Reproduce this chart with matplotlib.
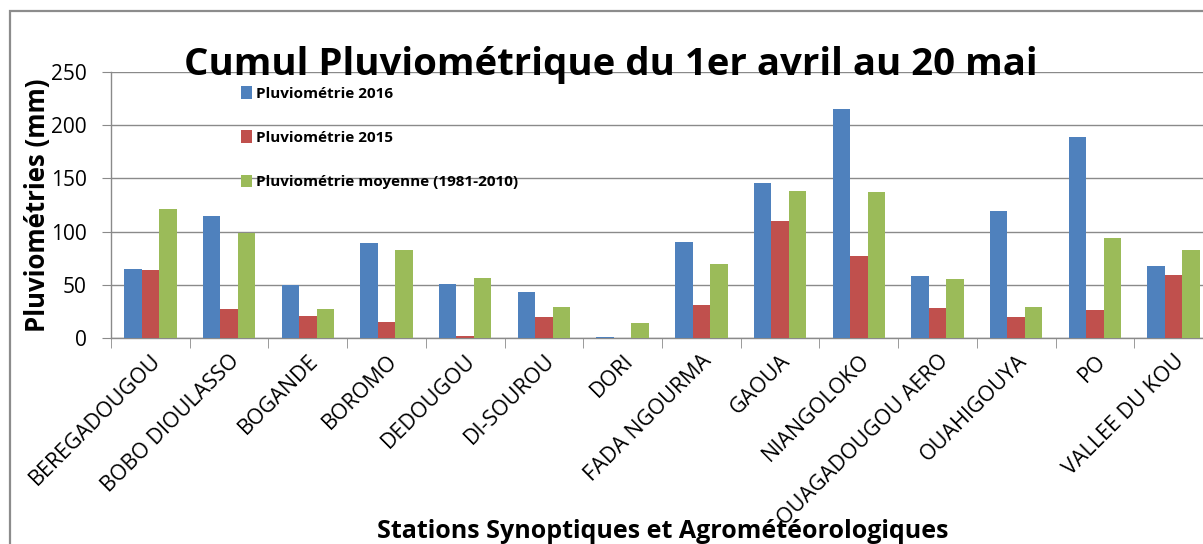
import matplotlib
matplotlib.use("Agg")
import matplotlib.pyplot as plt
from matplotlib.patches import Rectangle
import numpy as np

plt.rcParams['font.family'] = ['Open Sans', 'DejaVu Sans']

stations = ["BEREGADOUGOU", "BOBO DIOULASSO", "BOGANDE", "BOROMO", "DEDOUGOU",
            "DI-SOUROU", "DORI", "FADA NGOURMA", "GAOUA", "NIANGOLOKO",
            "OUAGADOUGOU AERO", "OUAHIGOUYA", "PO", "VALLEE DU KOU"]
pluvio_2016 = [65, 115, 50, 89, 51, 43, 1, 90, 146, 215, 58, 119, 189, 68]
pluvio_2015 = [64, 27, 21, 15, 1.5, 20, 0, 31, 110, 77, 28, 20, 26, 59]
pluvio_moy = [121, 99, 27, 83, 56, 29, 14, 70, 138, 137, 55, 29, 94, 83]

series_labels = ["Pluviométrie 2016", "Pluviométrie 2015", "Pluviométrie moyenne (1981-2010)"]
colors = ["#4F81BD", "#C0504D", "#9BBB59"]

W, H = 1203, 544
fig = plt.figure(figsize=(W / 100, H / 100), dpi=100)
fig.patch.set_facecolor("white")

# chart-area border (cut off at right and bottom in the screenshot)
fig.patches.append(Rectangle((10 / W, -0.1), 1.2, 1 - 11 / H + 0.1, transform=fig.transFigure,
                             fill=False, edgecolor="#8c8c8c", lw=1.6))

left, right, top, bottom = 111, 1213, 72, 338
ax = fig.add_axes([left / W, 1 - bottom / H, (right - left) / W, (bottom - top) / H])

x = np.arange(len(stations))
bw = 0.222
for k, (vals, c, lab) in enumerate(zip([pluvio_2016, pluvio_2015, pluvio_moy], colors, series_labels)):
    ax.bar(x + (k - 1) * bw, vals, bw, color=c, label=lab, zorder=3)

ax.set_xlim(-0.5, len(stations) - 0.5)
ax.set_ylim(0, 250)
ax.set_yticks(np.arange(0, 251, 50))
ax.yaxis.grid(True, color="#8a8a8a", lw=1.0, zorder=0)
for s in ["top", "right"]:
    ax.spines[s].set_visible(False)
for s in ["left", "bottom"]:
    ax.spines[s].set_color("#8a8a8a")
    ax.spines[s].set_linewidth(1.0)

ax.tick_params(axis="y", length=6.5, color="#8a8a8a", labelsize=15, pad=11)
ax.set_xticks(x)
ax.set_xticklabels(stations, rotation=45, ha="right", va="top", rotation_mode="anchor", fontsize=15.5)
ax.tick_params(axis="x", which="major", length=0, pad=9)
ax.set_xticks(np.arange(-0.5, len(stations), 1), minor=True)
ax.tick_params(axis="x", which="minor", length=7, color="#8a8a8a")

ax.set_ylabel("Pluviométries (mm)", fontsize=18.5, fontweight="bold", labelpad=0)

fig.text(0.508, 1 - 75 / H, "Cumul Pluviométrique du 1er avril au 20 mai", ha="center",
         va="baseline", fontsize=27.6, fontweight="bold")
fig.text(663 / W, 1 - 538 / H, "Stations Synoptiques et Agrométéorologiques", ha="center",
         va="baseline", fontsize=18, fontweight="bold")

ax.legend(loc="upper left", bbox_to_anchor=(241 / W, 1 - 86 / H), bbox_transform=fig.transFigure,
          frameon=False, prop={"size": 11, "weight": "bold"}, handlelength=0.75, handleheight=0.9,
          handletextpad=0.2, labelspacing=1.95, borderpad=0, borderaxespad=0)

fig.savefig("out.png", dpi=100)
